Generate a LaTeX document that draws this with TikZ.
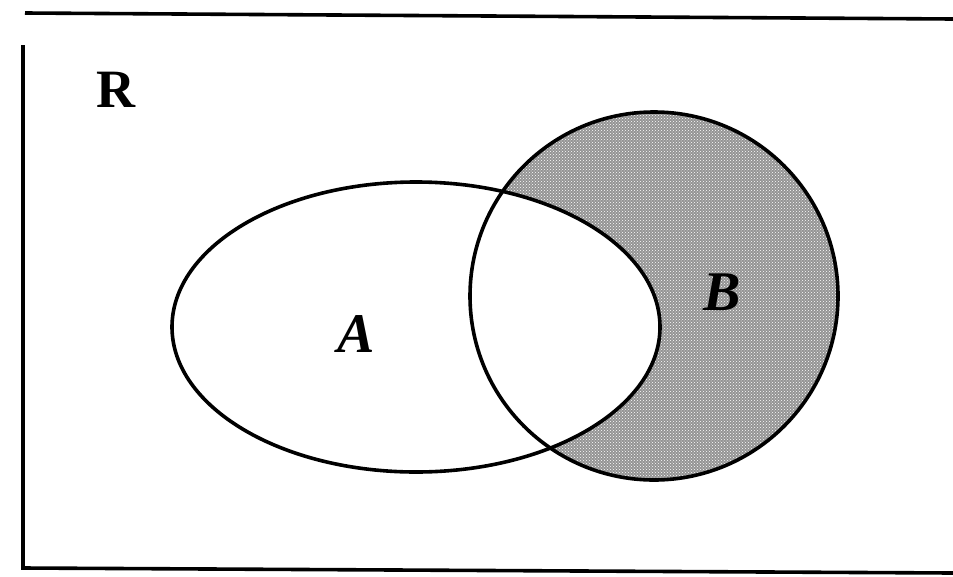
\documentclass[tikz,border=0pt]{standalone}
\usepackage{fontspec}
\setmainfont{Liberation Serif}
\usetikzlibrary{patterns}
\begin{document}
\begin{tikzpicture}[x=1pt,y=-1pt,
  outline/.style={line width=3.6pt, black},
  setlabel/.style={font=\fontsize{56}{56}\selectfont\bfseries\itshape, inner sep=0pt},
  shade/.style={fill=black!42}]
\useasboundingbox (0,0) rectangle (953,576);
% universe (right edge cut off)
\draw[outline] (953,19) -- (25,13);
\draw[outline] (23,45) -- (23,568) -- (953,573);
% shaded B minus A
\begin{scope}
  \clip (654,296) circle (184);
  \fill[shade, even odd rule] (0,0) rectangle (953,576) (416,327) ellipse (244 and 145);
  \fill[pattern=crosshatch dots, pattern color=white, even odd rule] (0,0) rectangle (953,576) (416,327) ellipse (244 and 145);
\end{scope}
\draw[outline] (416,327) ellipse (244 and 145);
\draw[outline] (654,296) circle (184);
\node[inner sep=0pt, font=\fontsize{54}{54}\selectfont\bfseries] (R) at (116,90) {R};
\node[setlabel] (A) at (356,334) {A};
\node[setlabel] (B) at (722,292) {B};
\end{tikzpicture}
\end{document}
